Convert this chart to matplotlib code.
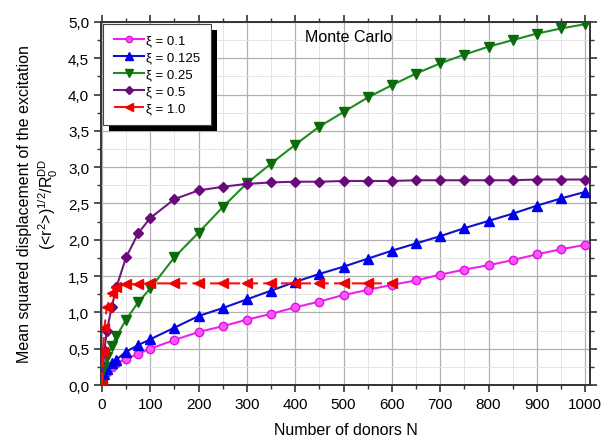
import numpy as np
import matplotlib
matplotlib.use('Agg')
import matplotlib.pyplot as plt
from matplotlib.ticker import MultipleLocator, FuncFormatter
from matplotlib.patches import Rectangle
from matplotlib.transforms import IdentityTransform

plt.rcParams['font.family'] = ['Liberation Sans', 'DejaVu Sans']
plt.rcParams['mathtext.fontset'] = 'custom'
plt.rcParams['mathtext.rm'] = 'Liberation Sans'
plt.rcParams['mathtext.it'] = 'Liberation Sans:italic'

# number of donors
n_all = [0, 5, 10, 20, 30, 50, 75, 100, 150, 200, 250, 300, 350, 400, 450,
         500, 550, 600, 650, 700, 750, 800, 850, 900, 950, 1000]
n_red = [0, 2, 5, 10, 20, 30, 50, 75, 100, 150, 200, 250, 300, 350, 400,
         450, 500, 550, 600]

xi_01 = [0, 0.12, 0.18, 0.25, 0.30, 0.36, 0.43, 0.50, 0.62, 0.73, 0.81, 0.90,
         0.98, 1.07, 1.15, 1.24, 1.31, 1.38, 1.44, 1.52, 1.59, 1.65, 1.72,
         1.80, 1.87, 1.93]
xi_0125 = [0, 0.15, 0.22, 0.30, 0.35, 0.46, 0.55, 0.63, 0.79, 0.95, 1.06, 1.18,
           1.30, 1.42, 1.53, 1.63, 1.74, 1.85, 1.95, 2.05, 2.16, 2.26, 2.36,
           2.47, 2.57, 2.66]
xi_025 = [0, 0.25, 0.38, 0.54, 0.67, 0.90, 1.14, 1.33, 1.76, 2.10, 2.45, 2.78,
          3.05, 3.31, 3.56, 3.76, 3.96, 4.13, 4.29, 4.43, 4.55, 4.66, 4.75,
          4.84, 4.91, 4.97]
xi_05 = [0, 0.48, 0.74, 1.07, 1.35, 1.76, 2.09, 2.30, 2.56, 2.68, 2.73, 2.77,
         2.79, 2.80, 2.80, 2.81, 2.81, 2.81, 2.82, 2.82, 2.82, 2.82, 2.82,
         2.83, 2.83, 2.83]
xi_1 = [0, 0.45, 0.78, 1.07, 1.27, 1.35, 1.39, 1.39, 1.40, 1.40, 1.40, 1.40,
        1.40, 1.40, 1.40, 1.40, 1.40, 1.40, 1.40]

fig = plt.figure(figsize=(6.03, 4.39), dpi=100, facecolor='white')
ax = fig.add_axes([0.1675, 0.1207, 0.811, 0.827])

ms = 6
ax.plot(n_all, xi_01, '-o', color='#ee22ee', mfc='#ff55ff', mec='#dd11dd',
        lw=1.5, ms=ms, label='\u03be = 0.1', zorder=3)
ax.plot(n_all, xi_0125, '-^', color='#1111cc', mfc='#0000ee', mec='#0000ee',
        lw=1.5, ms=ms + 1, label='\u03be = 0.125', zorder=3)
ax.plot(n_all, xi_025, '-v', color='#1e8c1e', mfc='#0b6b0b', mec='#0b6b0b',
        lw=1.5, ms=ms + 1, label='\u03be = 0.25', zorder=3)
ax.plot(n_all, xi_05, '-D', color='#701a80', mfc='#6a0a7a', mec='#6a0a7a',
        lw=1.5, ms=ms - 0.5, label='\u03be = 0.5', zorder=3)
ax.plot(n_red, xi_1, '--<', color='#ff1010', mfc='#ee0000', mec='#ee0000',
        lw=1.5, ms=ms + 1, dashes=(6, 2.5), label='\u03be = 1.0', zorder=4)

ax.set_xlim(-2, 1010)
ax.set_ylim(0, 5.0)
ax.xaxis.set_major_locator(MultipleLocator(100))
ax.xaxis.set_minor_locator(MultipleLocator(50))
ax.yaxis.set_major_locator(MultipleLocator(0.5))
ax.yaxis.set_minor_locator(MultipleLocator(0.25))
ax.yaxis.set_major_formatter(FuncFormatter(lambda v, p: f'{v:.1f}'.replace('.', ',')))

ax.grid(True, which='major', color='#b0b0b0', lw=0.9)
ax.grid(True, which='minor', color='#e4e4e4', lw=0.7)
ax.set_axisbelow(True)

for s in ax.spines.values():
    s.set_linewidth(1.4)
    s.set_color('#333333')
ax.tick_params(which='both', direction='out', top=True, right=True,
               labelsize=11, color='#333333')
ax.tick_params(which='major', length=5, width=1.2)
ax.tick_params(which='minor', length=3, width=1.0)

ax.set_xlabel('Number of donors N', fontsize=11.5, labelpad=8)
ax.set_ylabel('Mean squared displacement of the excitation\n'
              r'(<r$^{2}$>)$^{1/2}$/R$_{0}^{\mathrm{DD}}$', fontsize=11.5,
              labelpad=6, linespacing=1.3)

ax.text(420, 4.8, 'Monte Carlo', fontsize=11.5, va='center', ha='left')

leg = ax.legend(loc='upper left', fontsize=9.5, frameon=True, fancybox=False,
                framealpha=1, edgecolor='#444444', borderaxespad=0.15,
                handlelength=2.3, handletextpad=0.15, labelspacing=0.35,
                borderpad=0.8, markerscale=0.75)
leg.get_frame().set_linewidth(0.8)
leg.set_zorder(6)

# black drop shadow behind the legend box
fig.canvas.draw()
bb = leg.get_frame().get_window_extent()
shadow = Rectangle((bb.x0 + 6, bb.y0 - 6), bb.width, bb.height,
                   transform=IdentityTransform(), facecolor='black',
                   edgecolor='none', zorder=5.5)
ax.add_artist(shadow)

fig.savefig('out.png', dpi=100)
